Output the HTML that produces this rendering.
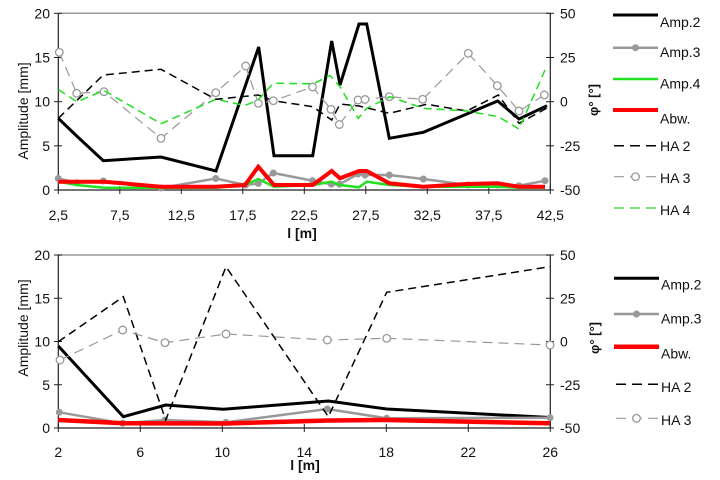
<!DOCTYPE html>
<html><head><meta charset="utf-8"><style>
html,body{margin:0;padding:0;background:#fff;}
svg{display:block;}
text{font-family:"Liberation Sans",Arial,sans-serif;font-size:14px;fill:#111;}
</style></head><body>
<svg width="720" height="480" viewBox="0 0 720 480" xmlns="http://www.w3.org/2000/svg">
<rect width="720" height="480" fill="#fff"/>

<!-- ============ TOP CHART ============ -->
<line x1="58.3" y1="13.3" x2="550.3" y2="13.3" stroke="#999" stroke-width="1.5"/>
<line x1="58.3" y1="13.3" x2="58.3" y2="190" stroke="#222" stroke-width="1.2"/>
<line x1="550.3" y1="13.3" x2="550.3" y2="190" stroke="#222" stroke-width="1.2"/>
<line x1="58.3" y1="190" x2="550.3" y2="190" stroke="#222" stroke-width="1.2"/>
<g stroke="#222" stroke-width="1">
<line x1="54" y1="13.3" x2="62" y2="13.3"/><line x1="54" y1="57.5" x2="62" y2="57.5"/><line x1="54" y1="101.7" x2="62" y2="101.7"/><line x1="54" y1="145.8" x2="62" y2="145.8"/><line x1="54" y1="190" x2="62" y2="190"/>
<line x1="546" y1="13.3" x2="554" y2="13.3"/><line x1="546" y1="57.5" x2="554" y2="57.5"/><line x1="546" y1="101.7" x2="554" y2="101.7"/><line x1="546" y1="145.8" x2="554" y2="145.8"/><line x1="546" y1="190" x2="554" y2="190"/>
<line x1="58.3" y1="186" x2="58.3" y2="194"/><line x1="119.8" y1="186" x2="119.8" y2="194"/><line x1="181.3" y1="186" x2="181.3" y2="194"/><line x1="242.8" y1="186" x2="242.8" y2="194"/><line x1="304.3" y1="186" x2="304.3" y2="194"/><line x1="365.8" y1="186" x2="365.8" y2="194"/><line x1="427.3" y1="186" x2="427.3" y2="194"/><line x1="488.8" y1="186" x2="488.8" y2="194"/><line x1="550.3" y1="186" x2="550.3" y2="194"/>
</g>
<g text-anchor="end">
<text x="50" y="18.3">20</text><text x="50" y="62.5">15</text><text x="50" y="106.7">10</text><text x="50" y="150.8">5</text><text x="50" y="195">0</text>
</g>
<g text-anchor="start">
<text x="560" y="18.3">50</text><text x="560" y="62.5">25</text><text x="560" y="106.7">0</text><text x="560" y="150.8">-25</text><text x="560" y="195">-50</text>
</g>
<g text-anchor="middle">
<text x="58.3" y="220">2,5</text><text x="119.8" y="220">7,5</text><text x="181.3" y="220">12,5</text><text x="242.8" y="220">17,5</text><text x="304.3" y="220">22,5</text><text x="365.8" y="220">27,5</text><text x="427.3" y="220">32,5</text><text x="488.8" y="220">37,5</text><text x="550.3" y="220">42,5</text>
</g>
<text x="302" y="238" text-anchor="middle" font-weight="bold">l [m]</text>
<text transform="translate(28,111) rotate(-90)" text-anchor="middle">Amplitude [mm]</text>
<text transform="translate(598,100) rotate(-90)" text-anchor="middle" font-weight="bold" style="font-size:13px">φ° [°]</text>

<!-- series top -->
<polyline fill="none" stroke="#000" stroke-width="3" stroke-linejoin="miter" points="58.3,118.3 76.7,136 103.3,160.7 161,157 216,171 258.7,47 274,155.7 312.7,155.7 331.7,41 340,85 359,24 366.7,24 389.3,138.3 423.3,132.3 497.7,101 519,119 547,105.7"/>
<polyline fill="none" stroke="#999" stroke-width="2.5" points="58.3,178.5 76.7,182.7 103.3,181 161,188 215.7,178.5 245.7,185 258.3,183.5 273.3,173 312.5,180.7 331.3,184.2 339.5,184.2 358,174 365,175 389.3,175 423.3,179 468.3,185 497.3,185 519,185.7 545,180.7"/>
<g fill="#999">
<circle cx="58.3" cy="178.5" r="3.5"/><circle cx="76.7" cy="182.7" r="3.5"/><circle cx="103.3" cy="181" r="3.5"/><circle cx="161" cy="188" r="3.5"/><circle cx="215.7" cy="178.5" r="3.5"/><circle cx="245.7" cy="185" r="3.5"/><circle cx="258.3" cy="183.5" r="3.5"/><circle cx="273.3" cy="173" r="3.5"/><circle cx="312.5" cy="180.7" r="3.5"/><circle cx="331.3" cy="184.2" r="3.5"/><circle cx="339.5" cy="184.2" r="3.5"/><circle cx="358" cy="174" r="3.5"/><circle cx="365" cy="175" r="3.5"/><circle cx="389.3" cy="175" r="3.5"/><circle cx="423.3" cy="179" r="3.5"/><circle cx="468.3" cy="185" r="3.5"/><circle cx="497.3" cy="185" r="3.5"/><circle cx="519" cy="185.7" r="3.5"/><circle cx="545" cy="180.7" r="3.5"/>
</g>
<polyline fill="none" stroke="#22e022" stroke-width="2.5" points="58.3,181.7 76.7,185 104.3,187.7 161,187.7 215.7,187.7 245,185 258.3,179 274,186.7 312.7,185 331.7,181.7 340,185 359,187.3 366.7,181.7 389.3,185 423.3,186.7 466.7,186.7 497.3,186.7 519,187.7 545,187.7"/>
<polyline fill="none" stroke="#ff0000" stroke-width="4" points="58.3,181.7 104.3,181.7 161,186.7 215.7,186.7 245,185 258.3,166.7 274,185 312.7,185 331.7,171 340,178.3 359,171 366.7,171 389.3,183.3 423.3,186.7 466.7,184 497.3,183.3 519,186.7 545,186.7"/>
<polyline fill="none" stroke="#000" stroke-width="1.5" stroke-dasharray="8,5" points="58.3,118.3 103.3,75 161,69.3 215.7,99.3 258.3,95 273.3,100.7 312.7,106.7 331.7,120 340,104 359,106 389.3,113.3 426.7,104.3 466.7,111 498.3,95 519,123.3 547,108"/>
<polyline fill="none" stroke="#999" stroke-width="1.2" stroke-dasharray="10,6" points="59.3,52.3 76.7,93.3 104,91.7 161,138.3 215.7,92.7 245.7,66 258.3,103.3 273.3,100.7 312.5,87 331,109.3 339.3,124.5 358,100 365,99.5 389.3,96.7 422.7,99.3 468.3,53.3 497.3,85.7 519,111 544.3,95"/>
<g fill="#fff" stroke="#999" stroke-width="1.3">
<circle cx="59.3" cy="52.3" r="3.8"/><circle cx="76.7" cy="93.3" r="3.8"/><circle cx="104" cy="91.7" r="3.8"/><circle cx="161" cy="138.3" r="3.8"/><circle cx="215.7" cy="92.7" r="3.8"/><circle cx="245.7" cy="66" r="3.8"/><circle cx="258.3" cy="103.3" r="3.8"/><circle cx="273.3" cy="100.7" r="3.8"/><circle cx="312.5" cy="87" r="3.8"/><circle cx="331" cy="109.3" r="3.8"/><circle cx="339.3" cy="124.5" r="3.8"/><circle cx="358" cy="100" r="3.8"/><circle cx="365" cy="99.5" r="3.8"/><circle cx="389.3" cy="96.7" r="3.8"/><circle cx="422.7" cy="99.3" r="3.8"/><circle cx="468.3" cy="53.3" r="3.8"/><circle cx="497.3" cy="85.7" r="3.8"/><circle cx="519" cy="111" r="3.8"/><circle cx="544.3" cy="95" r="3.8"/>
</g>
<polyline fill="none" stroke="#22dd22" stroke-width="1.5" stroke-dasharray="8,5" points="58.3,89.5 77,101.7 104,90.5 161,123.7 216,99.3 245,105.5 258,100 273.3,83.3 313.3,83.8 330,75.5 340,86.7 358.3,118.3 366.7,108.3 390,96.7 423.3,108.3 466.7,111 498.3,116.7 519,129 545,70"/>

<!-- top legend -->
<line x1="613" y1="15" x2="658" y2="15" stroke="#000" stroke-width="3"/>
<text x="660" y="27">Amp.2</text>
<line x1="613" y1="47.7" x2="658" y2="47.7" stroke="#999" stroke-width="2.5"/>
<circle cx="635.5" cy="47.7" r="3.5" fill="#999"/>
<text x="660" y="57">Amp.3</text>
<line x1="613" y1="79" x2="658" y2="79" stroke="#22e022" stroke-width="2.5"/>
<text x="660" y="88.5">Amp.4</text>
<line x1="613" y1="110" x2="658" y2="110" stroke="#ff0000" stroke-width="4"/>
<text x="660" y="123.5">Abw.</text>
<line x1="614" y1="145.7" x2="658" y2="145.7" stroke="#000" stroke-width="1.5" stroke-dasharray="10,6"/>
<text x="660" y="151">HA 2</text>
<line x1="614" y1="176.7" x2="658" y2="176.7" stroke="#999" stroke-width="1.2" stroke-dasharray="10,6"/>
<circle cx="635.5" cy="176.7" r="3.8" fill="#fff" stroke="#999" stroke-width="1.3"/>
<text x="660" y="183">HA 3</text>
<line x1="614" y1="208" x2="658" y2="208" stroke="#22dd22" stroke-width="1.2" stroke-dasharray="10,6"/>
<text x="660" y="215">HA 4</text>

<!-- ============ BOTTOM CHART ============ -->
<line x1="58.3" y1="255" x2="550.3" y2="255" stroke="#999" stroke-width="1.5"/>
<line x1="58.3" y1="255" x2="58.3" y2="428" stroke="#222" stroke-width="1.2"/>
<line x1="550.3" y1="255" x2="550.3" y2="428" stroke="#222" stroke-width="1.2"/>
<line x1="58.3" y1="428" x2="550.3" y2="428" stroke="#222" stroke-width="1.2"/>
<g stroke="#222" stroke-width="1">
<line x1="54" y1="255" x2="62" y2="255"/><line x1="54" y1="298.25" x2="62" y2="298.25"/><line x1="54" y1="341.5" x2="62" y2="341.5"/><line x1="54" y1="384.75" x2="62" y2="384.75"/><line x1="54" y1="428" x2="62" y2="428"/>
<line x1="546" y1="255" x2="554" y2="255"/><line x1="546" y1="298.25" x2="554" y2="298.25"/><line x1="546" y1="341.5" x2="554" y2="341.5"/><line x1="546" y1="384.75" x2="554" y2="384.75"/><line x1="546" y1="428" x2="554" y2="428"/>
<line x1="58.3" y1="424" x2="58.3" y2="432"/><line x1="140.3" y1="424" x2="140.3" y2="432"/><line x1="222.3" y1="424" x2="222.3" y2="432"/><line x1="304.3" y1="424" x2="304.3" y2="432"/><line x1="386.3" y1="424" x2="386.3" y2="432"/><line x1="468.3" y1="424" x2="468.3" y2="432"/><line x1="550.3" y1="424" x2="550.3" y2="432"/>
</g>
<g text-anchor="end">
<text x="50" y="260">20</text><text x="50" y="303.25">15</text><text x="50" y="346.5">10</text><text x="50" y="389.75">5</text><text x="50" y="433">0</text>
</g>
<g text-anchor="start">
<text x="560" y="260">50</text><text x="560" y="303.25">25</text><text x="560" y="346.5">0</text><text x="560" y="389.75">-25</text><text x="560" y="433">-50</text>
</g>
<g text-anchor="middle">
<text x="58.3" y="457">2</text><text x="140.3" y="457">6</text><text x="222.3" y="457">10</text><text x="304.3" y="457">14</text><text x="386.3" y="457">18</text><text x="468.3" y="457">22</text><text x="550.3" y="457">26</text>
</g>
<text x="305" y="470" text-anchor="middle" font-weight="bold">l [m]</text>
<text transform="translate(28,328) rotate(-90)" text-anchor="middle">Amplitude [mm]</text>
<text transform="translate(599,338) rotate(-90)" text-anchor="middle" font-weight="bold" style="font-size:13px">φ° [°]</text>

<!-- series bottom -->
<polyline fill="none" stroke="#000" stroke-width="3" points="58.3,346 123.3,416.7 165.7,405 223.3,409.3 328.3,401 386.7,409 550,417.5"/>
<polyline fill="none" stroke="#999" stroke-width="2.5" points="59.3,412.3 122.7,423.3 165,420 226,422.3 327.3,409 386.7,418.3 550,417.7"/>
<g fill="#999">
<circle cx="59.3" cy="412.3" r="3.5"/><circle cx="122.7" cy="423.3" r="3.5"/><circle cx="165" cy="420" r="3.5"/><circle cx="226" cy="422.3" r="3.5"/><circle cx="327.3" cy="409" r="3.5"/><circle cx="386.7" cy="418.3" r="3.5"/><circle cx="550" cy="417.7" r="3.5"/>
</g>
<polyline fill="none" stroke="#ff0000" stroke-width="4.5" points="58.3,420 123.3,423.3 226,423.5 328.3,420.5 386.7,420 550,423.3"/>
<polyline fill="none" stroke="#000" stroke-width="1.5" stroke-dasharray="8,5" points="58.3,341.7 123.3,296.7 165.7,420 226,266.7 328.3,416.7 386.7,292.3 550,266.7"/>
<polyline fill="none" stroke="#999" stroke-width="1.2" stroke-dasharray="10,6" points="60,360 122.7,330 165,342.7 226,334 327.3,340 386.7,338.3 550,345"/>
<g fill="#fff" stroke="#999" stroke-width="1.3">
<circle cx="60" cy="360" r="3.8"/><circle cx="122.7" cy="330" r="3.8"/><circle cx="165" cy="342.7" r="3.8"/><circle cx="226" cy="334" r="3.8"/><circle cx="327.3" cy="340" r="3.8"/><circle cx="386.7" cy="338.3" r="3.8"/><circle cx="550" cy="345" r="3.8"/>
</g>

<!-- bottom legend -->
<line x1="614" y1="278.3" x2="659" y2="278.3" stroke="#000" stroke-width="3"/>
<text x="661" y="289.5">Amp.2</text>
<line x1="614" y1="314" x2="659" y2="314" stroke="#999" stroke-width="2.5"/>
<circle cx="636.5" cy="314" r="3.5" fill="#999"/>
<text x="661" y="323.5">Amp.3</text>
<line x1="614" y1="346.7" x2="659" y2="346.7" stroke="#ff0000" stroke-width="4.5"/>
<text x="661" y="358.5">Abw.</text>
<line x1="616" y1="384.3" x2="659" y2="384.3" stroke="#000" stroke-width="1.5" stroke-dasharray="10,6"/>
<text x="661" y="392">HA 2</text>
<line x1="616" y1="418.3" x2="659" y2="418.3" stroke="#999" stroke-width="1.2" stroke-dasharray="10,6"/>
<circle cx="636.5" cy="418.3" r="3.8" fill="#fff" stroke="#999" stroke-width="1.3"/>
<text x="661" y="425">HA 3</text>
</svg>
</body></html>
